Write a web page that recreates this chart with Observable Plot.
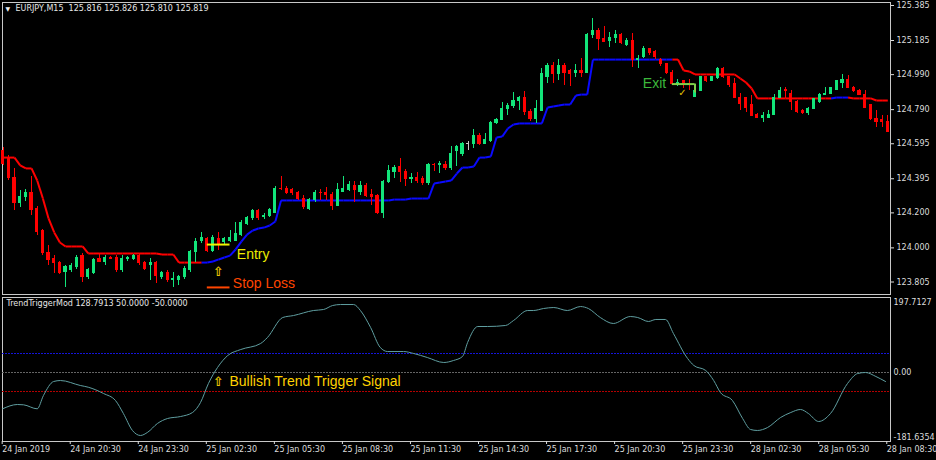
<!DOCTYPE html>
<html><head><meta charset="utf-8">
<script src="https://cdn.jsdelivr.net/npm/d3@7"></script>
<script src="https://cdn.jsdelivr.net/npm/@observablehq/plot@0.6"></script>
<style>
html,body{margin:0;padding:0;background:#000;}
#wrap{position:relative;width:936px;height:460px;background:#000;overflow:hidden;}
#wrap svg{position:absolute;left:0;}
</style></head>
<body><div id="wrap"></div>
<script>
// ---- data: EURJPY M15 candles (bar index 0 = 24 Jan 2019 17:30)
const open = [
124.556,124.516,124.402,124.254,124.288,124.311,124.225,124.099,123.968,123.939,
123.911,123.865,123.871,123.888,123.956,123.831,123.859,123.934,123.922,123.945,
123.945,123.871,123.934,123.939,123.956,123.911,123.905,123.911,123.831,123.859,
123.814,123.814,123.831,123.871,123.974,124.042,124.048,123.985,124.048,124.031,
124.042,124.042,124.071,124.139,124.168,124.208,124.174,124.185,124.202,124.339,
124.339,124.328,124.311,124.282,124.225,124.271,124.316,124.316,124.305,124.242,
124.322,124.328,124.356,124.322,124.356,124.305,124.294,124.202,124.374,124.436,
124.465,124.436,124.396,124.402,124.391,124.368,124.476,124.476,124.476,124.459,
124.556,124.534,124.591,124.591,124.642,124.596,124.608,124.711,124.728,124.791,
124.808,124.842,124.859,124.779,124.734,124.785,124.979,125.042,124.996,125.042,
125.008,125.002,125.008,125.002,125.219,125.242,125.196,125.185,125.202,125.219,
125.162,125.185,125.071,125.088,125.134,125.122,125.076,125.048,125.002,124.939,
124.951,124.934,124.865,124.899,124.974,124.956,124.968,125.025,124.974,124.939,
124.859,124.854,124.819,124.762,124.745,124.745,124.762,124.859,124.905,124.882,
124.836,124.785,124.768,124.796,124.831,124.876,124.882,124.905,124.945,124.962,
124.916,124.899,124.876,124.814,124.734,124.728,124.722];
const high = [
124.574,124.528,124.454,124.328,124.334,124.408,124.236,124.105,124.014,123.956,
123.922,123.899,123.911,123.956,123.968,123.882,123.939,123.968,123.956,123.951,
123.956,123.956,123.951,123.962,123.968,123.922,123.939,123.922,123.865,123.871,
123.859,123.842,123.894,123.985,124.054,124.088,124.059,124.071,124.088,124.059,
124.099,124.145,124.157,124.179,124.219,124.219,124.196,124.225,124.351,124.408,
124.351,124.339,124.322,124.299,124.282,124.328,124.334,124.345,124.316,124.368,
124.408,124.379,124.379,124.379,124.368,124.334,124.305,124.385,124.471,124.471,
124.511,124.448,124.425,124.431,124.408,124.482,124.482,124.494,124.494,124.579,
124.585,124.602,124.608,124.676,124.654,124.654,124.722,124.739,124.831,124.825,
124.888,124.865,124.894,124.791,124.842,125.025,125.054,125.059,125.076,125.054,
125.019,125.048,125.082,125.225,125.311,125.254,125.265,125.231,125.242,125.225,
125.196,125.225,125.099,125.151,125.139,125.128,125.082,125.054,125.014,124.962,
124.956,124.962,124.905,124.979,124.979,124.979,125.031,125.031,124.979,124.968,
124.882,124.859,124.871,124.768,124.774,124.785,124.876,124.916,124.916,124.899,
124.842,124.791,124.802,124.854,124.882,124.916,124.916,124.956,124.991,124.985,
124.922,124.905,124.899,124.819,124.785,124.756,124.756];
const low = [
124.471,124.385,124.214,124.231,124.265,124.185,124.071,123.956,123.899,123.854,
123.848,123.774,123.859,123.876,123.802,123.819,123.848,123.916,123.899,123.934,
123.859,123.859,123.922,123.928,123.899,123.871,123.814,123.796,123.819,123.802,
123.774,123.785,123.819,123.859,123.916,124.025,123.974,123.974,123.985,124.019,
124.031,124.036,124.065,124.128,124.157,124.157,124.162,124.174,124.196,124.328,
124.305,124.299,124.271,124.219,124.214,124.259,124.271,124.271,124.214,124.236,
124.316,124.322,124.259,124.299,124.288,124.242,124.191,124.168,124.368,124.396,
124.374,124.351,124.368,124.368,124.356,124.356,124.436,124.425,124.442,124.442,
124.465,124.522,124.556,124.568,124.585,124.591,124.602,124.705,124.728,124.756,
124.796,124.785,124.756,124.722,124.711,124.779,124.939,124.939,124.956,124.928,
124.922,124.974,124.974,124.996,125.196,125.128,125.174,125.145,125.168,125.162,
125.151,125.031,125.025,125.082,125.099,125.076,125.036,124.991,124.934,124.922,
124.911,124.899,124.859,124.894,124.945,124.951,124.962,124.968,124.916,124.859,
124.785,124.774,124.756,124.739,124.716,124.739,124.756,124.854,124.854,124.785,
124.768,124.762,124.756,124.791,124.825,124.871,124.876,124.899,124.911,124.911,
124.888,124.871,124.796,124.728,124.688,124.688,124.659];
const close = [
124.482,124.402,124.254,124.288,124.311,124.214,124.088,123.968,123.928,123.911,
123.859,123.888,123.899,123.945,123.831,123.871,123.928,123.922,123.945,123.939,
123.871,123.939,123.945,123.951,123.911,123.882,123.911,123.842,123.854,123.814,
123.825,123.831,123.882,123.974,124.036,124.054,123.985,124.054,124.025,124.048,
124.054,124.082,124.145,124.168,124.208,124.168,124.185,124.214,124.339,124.334,
124.316,124.311,124.282,124.231,124.271,124.316,124.311,124.305,124.242,124.328,
124.334,124.362,124.328,124.356,124.299,124.288,124.202,124.374,124.442,124.459,
124.431,124.396,124.402,124.385,124.368,124.476,124.471,124.482,124.454,124.534,
124.574,124.591,124.591,124.642,124.596,124.614,124.711,124.728,124.796,124.808,
124.842,124.859,124.779,124.734,124.796,124.991,125.042,124.996,125.042,125.002,
124.996,125.008,125.002,125.219,125.242,125.191,125.179,125.202,125.214,125.168,
125.185,125.071,125.082,125.139,125.111,125.088,125.048,125.002,124.939,124.945,
124.939,124.928,124.899,124.974,124.956,124.974,125.025,124.974,124.928,124.859,
124.825,124.802,124.756,124.745,124.751,124.762,124.859,124.894,124.894,124.831,
124.774,124.768,124.796,124.848,124.876,124.882,124.911,124.951,124.962,124.916,
124.894,124.876,124.802,124.734,124.722,124.722,124.665];

// trailing stop line (one value per bar) and its trend runs (d = red/above, u = blue/below)
const stopLine = [
124.516,124.516,124.516,124.471,124.454,124.454,124.385,124.282,124.168,124.088,
124.031,124.008,124.008,124.008,124.008,123.968,123.968,123.968,123.968,123.968,
123.968,123.968,123.968,123.968,123.968,123.968,123.968,123.968,123.962,123.962,
123.962,123.916,123.916,123.916,123.916,123.916,123.916,123.922,123.934,123.945,
123.956,123.991,124.036,124.076,124.099,124.111,124.116,124.128,124.151,124.271,
124.271,124.271,124.271,124.271,124.271,124.271,124.271,124.271,124.271,124.271,
124.271,124.271,124.271,124.271,124.271,124.271,124.271,124.271,124.271,124.276,
124.276,124.276,124.282,124.282,124.282,124.282,124.368,124.374,124.379,124.385,
124.425,124.459,124.459,124.465,124.516,124.516,124.522,124.631,124.636,124.682,
124.705,124.711,124.711,124.711,124.711,124.711,124.802,124.808,124.814,124.819,
124.819,124.871,124.876,124.876,125.076,125.076,125.076,125.076,125.076,125.076,
125.076,125.076,125.076,125.076,125.076,125.076,125.076,125.076,125.076,125.076,
125.014,125.008,124.991,124.991,124.991,124.991,124.991,124.991,124.991,124.991,
124.968,124.945,124.911,124.854,124.854,124.854,124.854,124.854,124.854,124.854,
124.854,124.854,124.854,124.854,124.854,124.854,124.854,124.859,124.859,124.859,
124.854,124.854,124.854,124.854,124.842,124.842,124.842];
const trendRuns = [["d",36],["u",83],["d",28],["u",3],["d",7]];

// TrendTriggerMod oscillator readings (bar position, value)
const oscBar = [-0.1,2.5,3.6,6,7.1,8.9,10.1,13.6,15,17.7,19.8,21.2,22.8,24.2,25.5,27.2,29,31.3,33.4,34.8,
36.2,37.8,39.6,41.9,45.4,46.6,49.3,51.2,54.7,56.5,58.1,59.5,61.8,63,64.8,66.5,67.8,70.6,72.4,74.8,
77.7,79.4,81,81.9,83.7,85.4,88.6,90,92.5,93.5,95.3,97.1,99.5,101.8,103.2,105.3,107.6,110.6,111.9,113.8,
115.1,116.8,118.2,120.7,121.8,123.9,125.3,126.5,128.6,130.4,131.8,133,134.8,137.1,138.9,140.6,142,143.8,145.9,148.9,
150.7,152.1,153.9,155.6];
const oscVal = [-95.5,-84.2,-85.0,-95.5,-60.5,-23.6,-21.0,-34.1,-38.6,-55.2,-73.6,-107.9,-152.7,-165.8,-157.1,-134.2,-121.0,-115.8,-105.2,-78.9,
-28.8,13.3,44.9,60.7,76.5,92.3,145.0,150.2,163.4,166.1,176.6,179.2,179.2,163.4,118.6,66.0,55.4,55.4,50.2,39.6,
26.5,31.7,42.3,79.2,121.3,121.3,124.0,137.1,163.4,163.4,168.7,171.3,163.4,173.9,168.7,145.0,129.2,147.6,145.0,134.5,
139.8,139.8,102.9,37.0,18.6,5.4,-21.0,-52.8,-73.6,-121.0,-150.0,-152.6,-144.8,-118.4,-105.2,-97.3,-107.9,-129.0,-107.9,-28.8,
-2.5,0.1,-10.4,-23.6];
const oscLevels = [50, 0, -50];
const oscRange = [-181.6354, 197.7127];

// axis ticks and labels
const priceTicks = [125.385,125.185,124.990,124.790,124.595,124.395,124.200,124.000,123.805];
const priceRange = [123.7336, 125.4022];
const timeTickBars = [0,12,24,36,48,60,72,84,96,108,120,132,144,156];
const timeTickLabels = ["24 Jan 2019","24 Jan 20:30","24 Jan 23:30","25 Jan 02:30","25 Jan 05:30","25 Jan 08:30",
  "25 Jan 11:30","25 Jan 14:30","25 Jan 17:30","25 Jan 20:30","25 Jan 23:30","28 Jan 02:30","28 Jan 05:30","28 Jan 08:30"];
const headerText = "EURJPY,M15\u00a0 125.816 125.826 125.810 125.819";
const oscTitle = "TrendTriggerMod 128.7913 50.0000 -50.0000";

// annotations
const entryBars = [36, 40], entryPrice = 124.019;
const stopLossPrice = 123.774;
const entryLabel = {bar: 41.2, price: 123.962, text: "Entry"};
const stopLabel = {bar: 40.5, price: 123.799, text: "Stop Loss"};
const arrowMain = {bar: 37.9, price: 123.865};
const exitLabel = {bar: 112.8, price: 124.939, text: "Exit"};
const exitBars = [118, 122], exitPrice = 124.936, exitDrop = 124.885;
const checkMark = {bar: 119.8, price: 124.885};
const signalLabel = {bar: 39.9, value: -24.9, text: "Bullish Trend Trigger Signal"};
const signalArrow = {bar: 37.9, value: -24.0};

// ---- build
const BULL = "#12e57a", BEAR = "#ff0000", DOJI = "#c8c8c8";
const RED = "#ff0000", BLUE = "#0a0aff";
const xDomain = [-0.12, 156.48];
const candles = open.map((o, i) => ({i, o, h: high[i], l: low[i], c: close[i]}));
const cColor = d => d.c > d.o ? BULL : d.c < d.o ? BEAR : DOJI;
const trend = trendRuns.flatMap(([t, n]) => Array(n).fill(t));
const segs = stopLine.slice(1).map((v, k) => ({x1: k, x2: k + 1, y1: stopLine[k], y2: v, t: trend[k + 1]}));
const osc = oscBar.map((b, k) => ({b, v: oscVal[k]}));
const tickMap = new Map(timeTickBars.map((b, k) => [b, timeTickLabels[k]]));
const annoFont = "Liberation Sans, Arial, sans-serif";
const baseStyle = {background: "#000", color: "#dcdcdc", fontFamily: "DejaVu Sans", fontSize: "8px", overflow: "visible"};
const crisp = {shapeRendering: "crispEdges"};

const main = Plot.plot({
  width: 936, height: 295,
  marginLeft: 2, marginRight: 46, marginTop: 2, marginBottom: 1,
  style: baseStyle,
  x: {domain: xDomain, axis: null},
  y: {domain: priceRange, axis: null},
  marks: [
    Plot.frame({stroke: "#c8c8c8", ...crisp}),
    Plot.axisY({anchor: "right", ticks: priceTicks, tickFormat: d => d.toFixed(3), tickSize: 3, tickPadding: 3}),
    Plot.link(segs, {x1: "x1", x2: "x2", y1: "y1", y2: "y2", stroke: d => d.t === "u" ? BLUE : RED, strokeWidth: 2}),
    Plot.ruleX(candles, {x: "i", y1: "l", y2: "h", stroke: cColor, strokeWidth: 1, ...crisp}),
    Plot.rect(candles, {x1: d => d.i - 0.28, x2: d => d.i + 0.28, y1: "o", y2: "c", fill: cColor, insetTop: -0.5, insetBottom: -0.5, ...crisp}),
    // entry / stop loss
    Plot.ruleY([entryPrice], {x1: entryBars[0], x2: entryBars[1], stroke: "#f2f200", strokeWidth: 2}),
    Plot.ruleY([stopLossPrice], {x1: entryBars[0], x2: entryBars[1], stroke: "#ff4500", strokeWidth: 2}),
    Plot.text([entryLabel], {x: "bar", y: "price", text: "text", textAnchor: "start", fill: "#ecec00", fontSize: 14, fontFamily: annoFont}),
    Plot.text([stopLabel], {x: "bar", y: "price", text: "text", textAnchor: "start", fill: "#ff4500", fontSize: 14, fontFamily: annoFont}),
    Plot.text([arrowMain], {x: "bar", y: "price", text: () => "\u21e7", fill: "#e6c400", fontSize: 13, fontWeight: "bold", fontFamily: "DejaVu Sans"}),
    // exit
    Plot.text([exitLabel], {x: "bar", y: "price", text: "text", textAnchor: "start", fill: "#3cb83c", fontSize: 14, fontFamily: annoFont}),
    Plot.ruleY([exitPrice], {x1: exitBars[0], x2: exitBars[1], stroke: "#7fd04a", strokeWidth: 2}),
    Plot.ruleX([exitBars[1]], {y1: exitPrice, y2: exitDrop, stroke: "#7fd04a", strokeWidth: 2}),
    Plot.text([checkMark], {x: "bar", y: "price", text: () => "\u2713", fill: "#e6c200", fontSize: 10, fontWeight: "bold", fontFamily: "DejaVu Sans"}),
    // header
    Plot.text(["\u25bc"], {frameAnchor: "top-left", dx: 3, dy: 4, lineAnchor: "top", fill: "#f0f0f0", fontSize: 6}),
    Plot.text([headerText], {frameAnchor: "top-left", dx: 13, dy: 3, lineAnchor: "top", fill: "#e6e6e6"})
  ]
});

const lower = Plot.plot({
  width: 936, height: 165,
  marginLeft: 2, marginRight: 46, marginTop: 2, marginBottom: 19,
  style: baseStyle,
  x: {domain: xDomain, axis: null},
  y: {domain: oscRange, axis: null},
  marks: [
    Plot.frame({stroke: "#c8c8c8", ...crisp}),
    Plot.ruleY([oscLevels[0]], {stroke: "#1414d8", strokeDasharray: "2,1", ...crisp}),
    Plot.ruleY([oscLevels[1]], {stroke: "#646464", strokeDasharray: "2,1", ...crisp}),
    Plot.ruleY([oscLevels[2]], {stroke: "#b40000", strokeDasharray: "2,1", ...crisp}),
    Plot.line(osc, {x: "b", y: "v", stroke: "#5f9ea0", strokeWidth: 1, curve: "monotone-x"}),
    Plot.axisX({anchor: "bottom", ticks: timeTickBars, tickFormat: d => tickMap.get(d), tickSize: 3, tickPadding: 2, textAnchor: "start", dx: -1}),
    Plot.text([oscRange[1]], {y: d => d, frameAnchor: "right", dx: 3, dy: 5, textAnchor: "start", text: d => d.toFixed(4)}),
    Plot.text([0], {y: d => d, frameAnchor: "right", dx: 3, textAnchor: "start", text: d => d.toFixed(2)}),
    Plot.text([oscRange[0]], {y: d => d, frameAnchor: "right", dx: 3, dy: -4, textAnchor: "start", text: d => d.toFixed(4)}),
    Plot.text([oscTitle], {frameAnchor: "top-left", dx: 4, dy: 3, lineAnchor: "top", fill: "#e6e6e6"}),
    Plot.text([signalArrow], {x: "bar", y: "value", text: () => "\u21e7", fill: "#e6c400", fontSize: 13, fontWeight: "bold", fontFamily: "DejaVu Sans"}),
    Plot.text([signalLabel], {x: "bar", y: "value", text: "text", textAnchor: "start", fill: "#ffd200", fontSize: 14, fontFamily: annoFont})
  ]
});

main.style.top = "0px";
lower.style.top = "295px";
const wrap = document.getElementById("wrap");
wrap.appendChild(main);
wrap.appendChild(lower);
</script>
</body></html>
